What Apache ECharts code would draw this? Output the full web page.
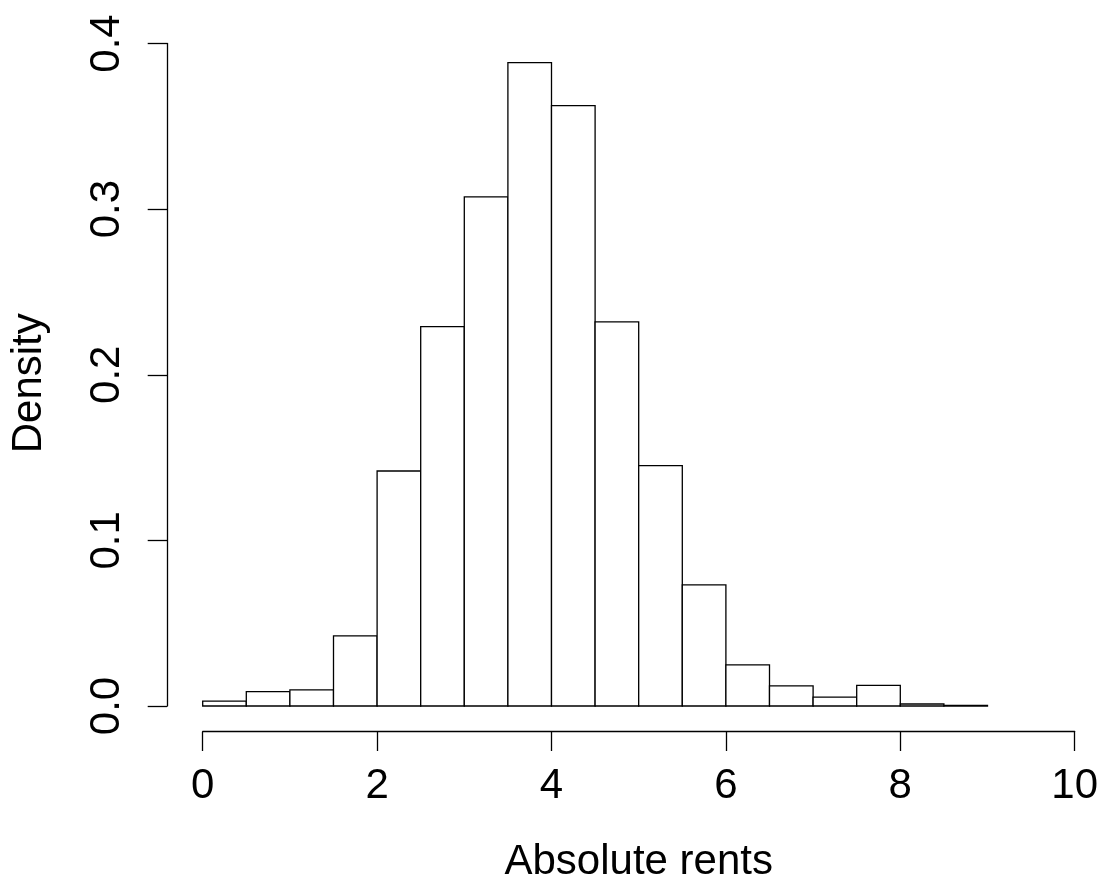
<!DOCTYPE html>
<html>
<head>
<meta charset="utf-8">
<script src="https://cdn.jsdelivr.net/npm/echarts@6/dist/echarts.min.js"></script>
<style>
html,body{margin:0;padding:0;background:#fff;}
#chart{width:1107px;height:891px;}
</style>
</head>
<body>
<div id="chart"></div>
<script>
// Histogram bin edges (left, right) and densities
var binLeft  = [0, 0.5, 1, 1.5, 2, 2.5, 3, 3.5, 4, 4.5, 5, 5.5, 6, 6.5, 7, 7.5, 8, 8.5];
var binRight = [0.5, 1, 1.5, 2, 2.5, 3, 3.5, 4, 4.5, 5, 5.5, 6, 6.5, 7, 7.5, 8, 8.5, 9];
var density  = [0.003, 0.0087, 0.0097, 0.0423, 0.1419, 0.229, 0.3074, 0.3885, 0.3625, 0.2319,
                0.1451, 0.0731, 0.0248, 0.0121, 0.0053, 0.0125, 0.0012, 0.0004];
var xTicks = [0, 2, 4, 6, 8, 10];
var yTicks = [0.0, 0.1, 0.2, 0.3, 0.4];
var xTitle = 'Absolute rents';
var yTitle = 'Density';

var FONT = 'Liberation Sans, Arial, Helvetica, sans-serif';
var LW = 1.3;

var data = binLeft.map(function (l, i) { return [l, binRight[i], density[i]]; });

var chart = echarts.init(document.getElementById('chart'), null, {renderer: 'canvas'});
chart.setOption({
  backgroundColor: '#ffffff',
  animation: false,
  grid: {left: 201.7, top: 43.5, width: 873, height: 662.5, containLabel: false},
  xAxis: {
    type: 'value', min: 0, max: 10, interval: 2,
    offset: 25.7,
    axisLine: {show: true, onZero: false, lineStyle: {color: '#000', width: LW}},
    axisTick: {show: true, length: 19.3, lineStyle: {color: '#000', width: LW}},
    splitLine: {show: false},
    axisLabel: {
      margin: 34, color: '#000', fontSize: 42, fontFamily: FONT,
      formatter: function (v) { return xTicks.indexOf(v) >= 0 ? String(v) : ''; }
    },
    name: xTitle, nameLocation: 'middle', nameGap: 110,
    nameTextStyle: {color: '#000', fontSize: 42, fontFamily: FONT}
  },
  yAxis: {
    type: 'value', min: 0, max: 0.4, interval: 0.1,
    offset: 35.7,
    axisLine: {show: true, onZero: false, lineStyle: {color: '#000', width: LW}},
    axisTick: {show: true, length: 19.3, lineStyle: {color: '#000', width: LW}},
    splitLine: {show: false},
    axisLabel: {
      margin: 39, rotate: 90, color: '#000', fontSize: 42, fontFamily: FONT,
      formatter: function (v) {
        for (var i = 0; i < yTicks.length; i++) {
          if (Math.abs(yTicks[i] - v) < 1e-9) return yTicks[i].toFixed(1);
        }
        return '';
      }
    },
    name: yTitle, nameLocation: 'middle', nameGap: 117,
    nameTextStyle: {color: '#000', fontSize: 42, fontFamily: FONT, padding: [0, 17, 0, 0]}
  },
  series: [{
    type: 'custom',
    data: data,
    clip: false,
    renderItem: function (params, api) {
      var p0 = api.coord([api.value(0), 0]);
      var p1 = api.coord([api.value(1), api.value(2)]);
      return {
        type: 'rect',
        shape: {x: p0[0], y: p1[1], width: p1[0] - p0[0], height: p0[1] - p1[1]},
        style: {fill: '#ffffff', stroke: '#000000', lineWidth: LW}
      };
    },
    encode: {x: [0, 1], y: 2}
  }]
});
</script>
</body>
</html>
